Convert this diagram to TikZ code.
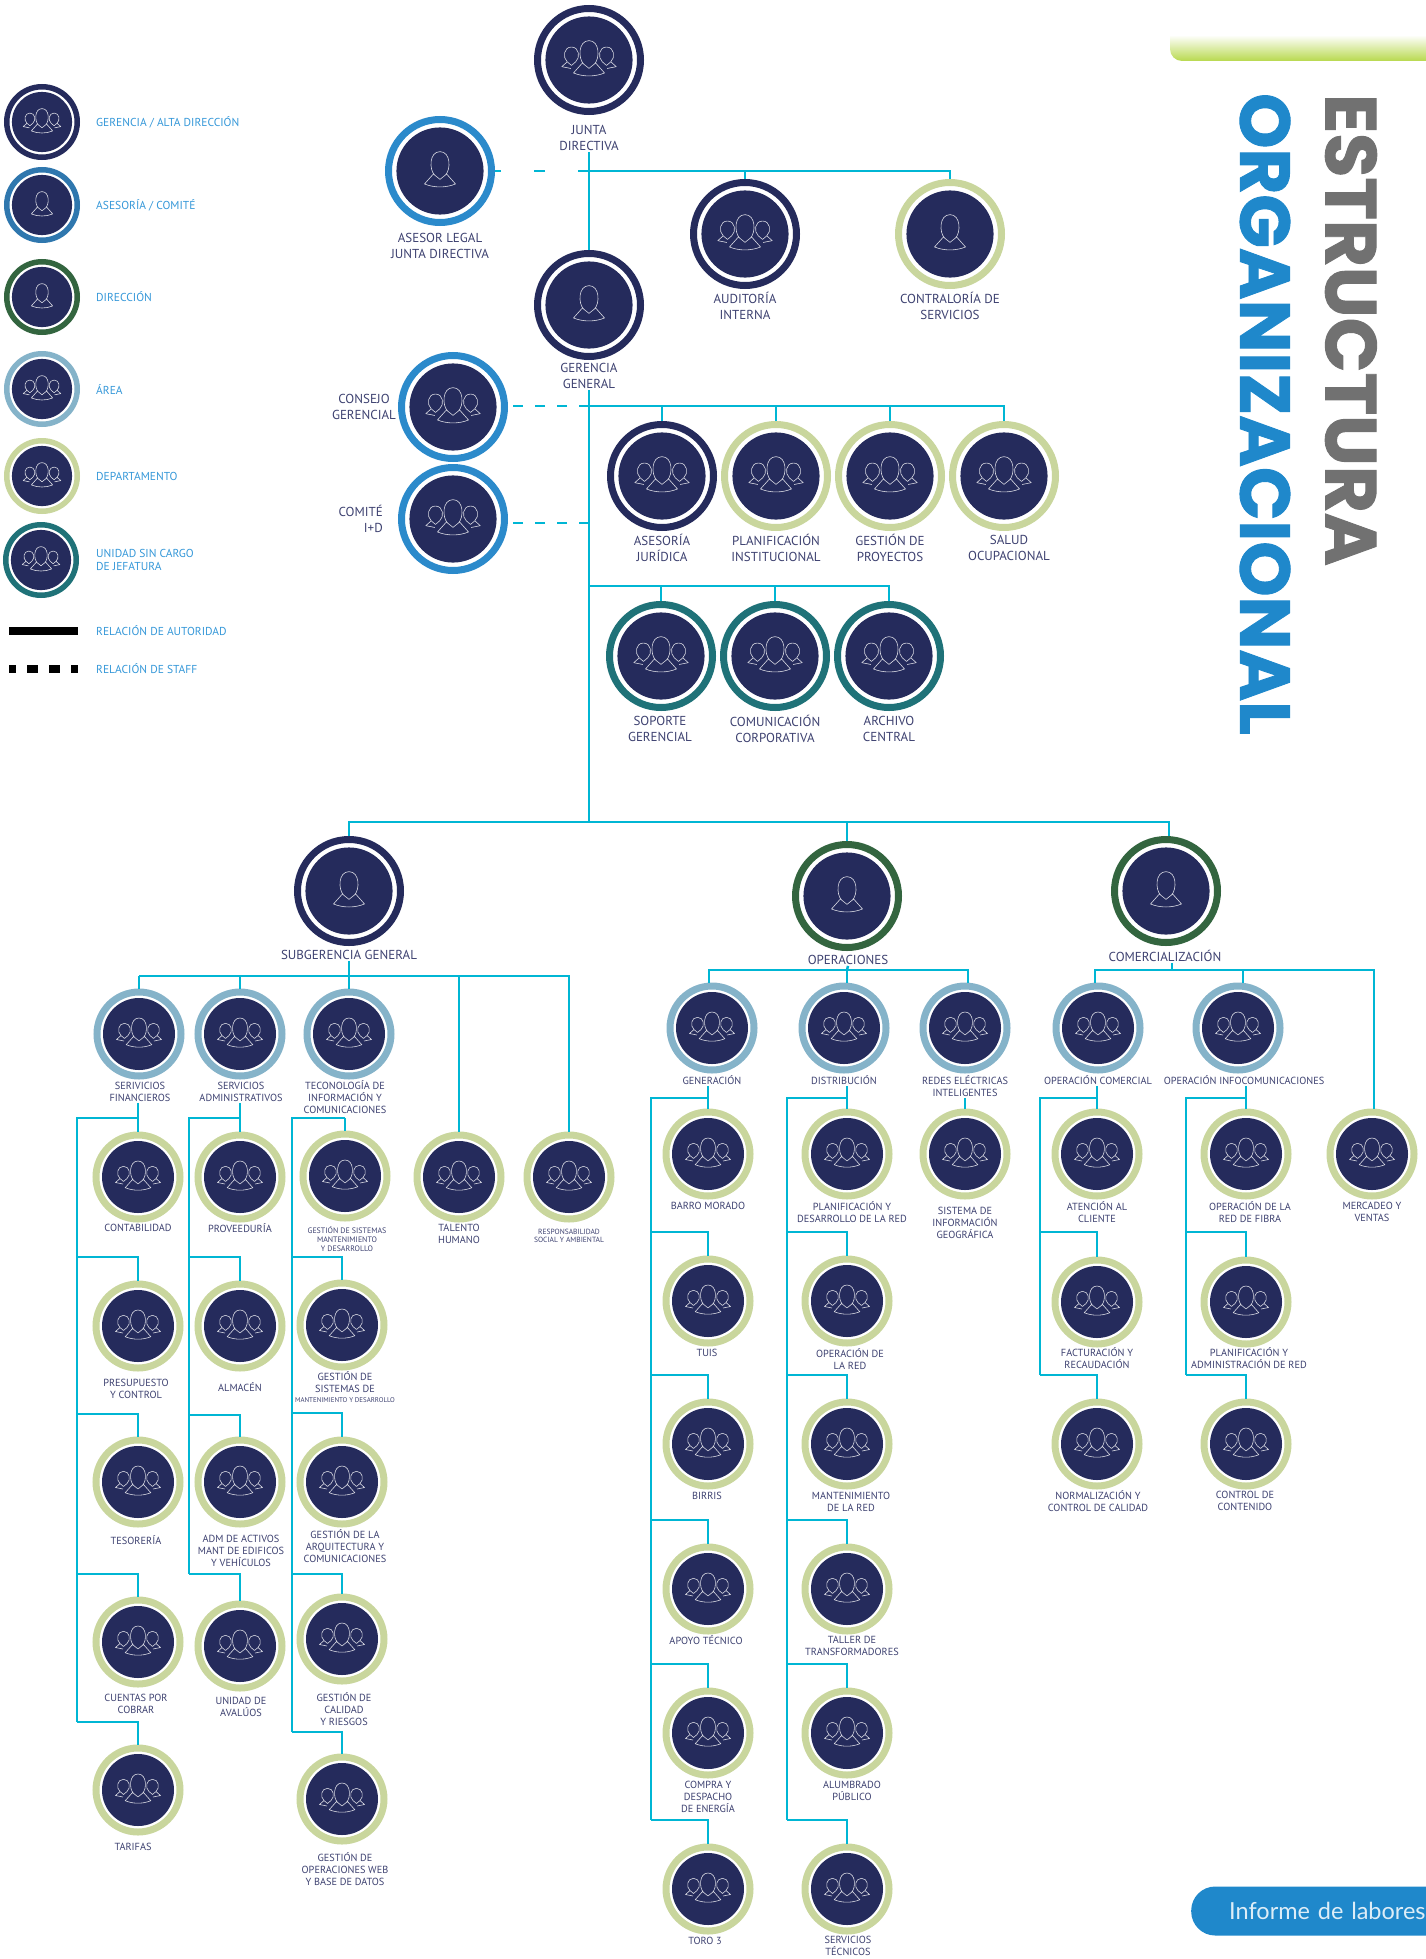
\documentclass[tikz,border=0pt]{standalone}
\usepackage{fontspec}
\setmainfont{PT Sans}
\newfontfamily\titlefont{Poppins}[BoldFeatures={FakeBold=1.3}]
\newfontfamily\tabfont{Lato}
\usepackage{xcolor}
\definecolor{navy}{HTML}{252B5C}
\definecolor{staffblue}{HTML}{2B8ACB}
\definecolor{legendblue}{HTML}{2F77AE}
\definecolor{dirgreen}{HTML}{33653F}
\definecolor{areablue}{HTML}{85B3C9}
\definecolor{deptgreen}{HTML}{C9D69D}
\definecolor{unitteal}{HTML}{1F7278}
\definecolor{linkcyan}{HTML}{00B6D4}
\definecolor{labelnavy}{HTML}{3D4170}
\definecolor{legendtext}{HTML}{3497D8}
\definecolor{barlime}{HTML}{B8D94E}
\definecolor{titleblue}{HTML}{1F88CB}
\definecolor{titlegray}{HTML}{717171}

\newcommand{\bustshape}{
    (-4.5,3.3) .. controls (-9,-1) and (-9,-16) .. (0,-16) .. controls (9,-16) and (9,-1) .. (4.5,3.3)
    (-5.5,2.5) -- (0,6.9) -- (5.5,2.5) -- (12.8,10.7) .. controls (5,14) and (-5,14) .. (-12.8,10.7) -- cycle
}
\newcommand{\sideshape}{
    (11,1.5) .. controls (7,-2) and (8,-10.7) .. (14.5,-10.7) .. controls (21,-10.7) and (22,-2) .. (18,1.5)
    (11,1.5) -- (14.5,4.5) -- (18,1.5) -- (22.5,5.5) -- (15,7)
}
\tikzset{
    iconscale/.store in=\iconscale,
    face/.style={fill=navy},
    iconline/.style={draw=white!82!navy, line width=0.6pt, line join=round},
    unit/.style={circle, fill=white, inner sep=0pt},
    big/.style={unit, minimum size=103pt, line width=7pt, iconscale=1.21},
    mid/.style={unit, minimum size=84pt, line width=7pt, iconscale=1},
    leg/.style={unit, minimum size=70.5pt, line width=5.5pt, iconscale=0.835},
    gerencia/.style={draw=navy},
    asesoria/.style={draw=staffblue},
    asesorialeg/.style={draw=legendblue},
    direccion/.style={draw=dirgreen},
    area/.style={draw=areablue},
    depto/.style={draw=deptgreen},
    sincargo/.style={draw=unitteal},
    single/.style={path picture={
        \begin{scope}[x=\iconscale*1pt, y=-\iconscale*1pt, shift={(path picture bounding box.center)}]
            \fill[face] (0,0) circle (36);
            \draw[iconline] \bustshape;
        \end{scope}}},
    people/.style={path picture={
        \begin{scope}[x=\iconscale*1pt, y=-\iconscale*1pt, shift={(path picture bounding box.center)}]
            \fill[face] (0,0) circle (36);
            \draw[iconline] \sideshape;
            \draw[iconline, x=-\iconscale*1pt] \sideshape;
            \fill[face] \bustshape;
            \draw[iconline] \bustshape;
        \end{scope}}},
    lab/.style={text=labelnavy, align=center, inner sep=1pt, font=\fontsize{10.3}{12}\selectfont},
    labbig/.style={text=labelnavy, align=center, inner sep=1pt, font=\fontsize{13}{16.5}\selectfont},
    labsmall/.style={text=labelnavy, align=center, inner sep=1pt, font=\fontsize{7.9}{9.3}\selectfont},
    labtiny/.style={text=labelnavy, align=center, inner sep=1pt, font=\fontsize{7.5}{8}\selectfont},
    legtext/.style={text=legendtext, align=left, anchor=west, inner sep=0pt, font=\fontsize{11.5}{13}\selectfont},
    link/.style={draw=linkcyan, line width=2.5pt},
    staff/.style={draw=linkcyan, line width=2.5pt},
    legline/.style={draw=black, line width=8pt}
}

\begin{document}
\begin{tikzpicture}[x=1pt, y=-1pt]
    \useasboundingbox (0,0) rectangle (1426,1959);

    % Green bar and title
    \shade[top color=white, bottom color=barlime] (1426,35) -- (1170,35) -- (1170,49)
        arc[start angle=180, end angle=90, radius=12] -- (1426,61) -- cycle;
    \node[rotate=-90, text=titlegray, inner sep=0pt, font=\titlefont\bfseries\fontsize{72}{72}\selectfont] (estructura) at (1351,330) {ESTRUCTURA};
    \node[rotate=-90, text=titleblue, inner sep=0pt, font=\titlefont\bfseries\fontsize{70.3}{70}\selectfont] (organizacional) at (1265,414) {ORGANIZACIONAL};
    \node[fill=titleblue, rounded corners=24pt, minimum height=49pt, anchor=west, align=left, text=white!85!titleblue, inner sep=0pt, font=\tabfont\fontsize{23.5}{24}\selectfont, text width=262pt] (informe) at (1191,1911) {\hspace*{38pt}\mbox{Informe de labores}};

    % Legend
    \node[leg,gerencia,people] (legA) at (42,122) {};
    \node[leg,asesorialeg,single] (legB) at (42,205) {};
    \node[leg,direccion,single] (legC) at (42,297) {};
    \node[leg,area,people] (legD) at (42,389) {};
    \node[leg,depto,people] (legE) at (42,476) {};
    \node[leg,sincargo,people] (legF) at (41,560) {};
    \node[legtext] (legAt) at (96,122) {GERENCIA / ALTA DIRECCIÓN};
    \node[legtext] (legBt) at (96,205) {ASESORÍA / COMITÉ};
    \node[legtext] (legCt) at (96,297) {DIRECCIÓN};
    \node[legtext] (legDt) at (96,389) {ÁREA};
    \node[legtext] (legEt) at (96,476) {DEPARTAMENTO};
    \node[legtext] (legFt) at (96,560) {UNIDAD SIN CARGO\\DE JEFATURA};
    \node[legtext] (legGt) at (96,631) {RELACIÓN DE AUTORIDAD};
    \node[legtext] (legHt) at (96,669) {RELACIÓN DE STAFF};
    \coordinate (legG) at (9,631);
    \coordinate (legH) at (9,669);
    \draw[legline] (legG) -- (legG -| 78,0);
    \draw[legline, dash pattern=on 7pt off 11pt on 11pt off 11pt on 11pt off 11pt on 7pt off 11pt] (legH) -- (legH -| 78,0);

    % Top of the chart
    \node[big,gerencia,people] (junta) at (589,60) {};
    \node[big,asesoria,single] (asesor) at (440,171) {};
    \node[big,gerencia,people] (auditoria) at (745,234) {};
    \node[big,depto,single] (contraloria) at (950,234) {};
    \node[big,gerencia,single] (gerencia) at (589,305) {};
    \node[big,asesoria,people] (consejo) at (453,407) {};
    \node[big,asesoria,people] (comite) at (453,519) {};
    \node[big,gerencia,people] (juridica) at (662,476) {};
    \node[big,depto,people] (institucional) at (776,476) {};
    \node[big,depto,people] (proyectos) at (890,476) {};
    \node[big,depto,people] (salud) at (1004,476) {};
    \node[big,sincargo,people] (soporte) at (661,656) {};
    \node[big,sincargo,people] (corporativa) at (775,656) {};
    \node[big,sincargo,people] (archivo) at (889,656) {};
    \node[big,gerencia,single] (subgerencia) at (349,891) {};
    \node[big,direccion,single] (operaciones) at (847,896) {};
    \node[big,direccion,single] (comercial) at (1166,891) {};

    \node[labbig] (juntaL) at (589,138) {JUNTA\\DIRECTIVA};
    \node[labbig] (asesorL) at (440,246) {ASESOR LEGAL\\JUNTA DIRECTIVA};
    \node[labbig] (auditoriaL) at (745,306) {AUDITORÍA\\INTERNA};
    \node[labbig] (contraloriaL) at (950,306) {CONTRALORÍA DE\\SERVICIOS};
    \node[labbig] (gerenciaL) at (589,376) {GERENCIA\\GENERAL};
    \node[labbig] (consejoL) at (364,407) {CONSEJO\\GERENCIAL};
    \node[labbig, align=right, anchor=east] (comiteL) at (384,519) {COMITÉ\\I+D};
    \node[labbig] (juridicaL) at (662,548) {ASESORÍA\\JURÍDICA};
    \node[labbig] (institucionalL) at (776,548) {PLANIFICACIÓN\\INSTITUCIONAL};
    \node[labbig] (proyectosL) at (890,548) {GESTIÓN DE\\PROYECTOS};
    \node[labbig] (saludL) at (1009,548) {SALUD\\OCUPACIONAL};
    \node[labbig] (soporteL) at (660,729) {SOPORTE\\GERENCIAL};
    \node[labbig] (corporativaL) at (775,729) {COMUNICACIÓN\\CORPORATIVA};
    \node[labbig] (archivoL) at (889,729) {ARCHIVO\\CENTRAL};
    \node[labbig] (subgerenciaL) at (349,955) {SUBGERENCIA GENERAL};
    \node[labbig] (operacionesL) at (848,960) {OPERACIONES};
    \node[labbig] (comercialL) at (1165,956) {COMERCIALIZACIÓN};

    % Subgerencia general
    \node[mid,area,people] (financieros) at (139,1034) {};
    \node[mid,area,people] (administrativos) at (240,1034) {};
    \node[mid,area,people] (tecnologia) at (349,1034) {};
    \node[mid,depto,people] (contabilidad) at (138,1177) {};
    \node[mid,depto,people] (proveeduria) at (240,1177) {};
    \node[mid,depto,people] (mantenimiento) at (345,1176) {};
    \node[mid,depto,people] (talento) at (459,1177) {};
    \node[mid,depto,people] (responsabilidad) at (569,1177) {};
    \node[mid,depto,people] (presupuesto) at (138,1326) {};
    \node[mid,depto,people] (almacen) at (240,1326) {};
    \node[mid,depto,people] (sistemas) at (342,1325) {};
    \node[mid,depto,people] (tesoreria) at (138,1482) {};
    \node[mid,depto,people] (activos) at (240,1482) {};
    \node[mid,depto,people] (arquitectura) at (342,1482) {};
    \node[mid,depto,people] (cuentas) at (138,1642) {};
    \node[mid,depto,people] (avaluos) at (240,1646) {};
    \node[mid,depto,people] (calidad) at (342,1639) {};
    \node[mid,depto,people] (tarifas) at (138,1790) {};
    \node[mid,depto,people] (web) at (342,1799) {};

    \node[lab] (financierosL) at (140,1092) {SERIVICIOS\\FINANCIEROS};
    \node[lab] (administrativosL) at (241,1092) {SERVICIOS\\ADMINISTRATIVOS};
    \node[lab] (tecnologiaL) at (345,1097) {TECONOLOGÍA DE\\INFORMACIÓN Y\\COMUNICACIONES};
    \node[lab] (contabilidadL) at (138,1228) {CONTABILIDAD};
    \node[lab] (proveeduriaL) at (240,1228) {PROVEEDURÍA};
    \node[labsmall] (mantenimientoL) at (347,1239) {GESTIÓN DE SISTEMAS\\MANTENIMIENTO\\Y DESARROLLO};
    \node[lab] (talentoL) at (459,1234) {TALENTO\\HUMANO};
    \node[labtiny] (responsabilidadL) at (569,1236) {RESPONSABILIDAD\\SOCIAL Y AMBIENTAL};
    \node[lab] (presupuestoL) at (136,1389) {PRESUPUESTO\\Y CONTROL};
    \node[lab] (almacenL) at (240,1387) {ALMACÉN};
    \node[lab] (sistemasL) at (345,1387) {GESTIÓN DE\\SISTEMAS DE\\[-2pt]{\fontsize{6.9}{8}\selectfont MANTENIMIENTO Y DESARROLLO}};
    \node[lab] (tesoreriaL) at (136,1540) {TESORERÍA};
    \node[lab] (activosL) at (241,1551) {ADM DE ACTIVOS\\MANT DE EDIFICOS\\Y VEHÍCULOS};
    \node[lab] (arquitecturaL) at (345,1546) {GESTIÓN DE LA\\ARQUITECTURA Y\\COMUNICACIONES};
    \node[lab] (cuentasL) at (136,1704) {CUENTAS POR\\COBRAR};
    \node[lab] (avaluosL) at (241,1707) {UNIDAD DE\\AVALÚOS};
    \node[lab] (calidadL) at (344,1709) {GESTIÓN DE\\CALIDAD\\Y RIESGOS};
    \node[lab] (tarifasL) at (133,1847) {TARIFAS};
    \node[lab] (webL) at (345,1869) {GESTIÓN DE\\OPERACIONES WEB\\Y BASE DE DATOS};

    % Operaciones
    \node[mid,area,people] (generacion) at (712,1028) {};
    \node[mid,area,people] (distribucion) at (844,1028) {};
    \node[mid,area,people] (redes) at (965,1028) {};
    \node[mid,depto,people] (barro) at (708,1154) {};
    \node[mid,depto,people] (tuis) at (708,1301) {};
    \node[mid,depto,people] (birris) at (708,1444) {};
    \node[mid,depto,people] (apoyo) at (708,1589) {};
    \node[mid,depto,people] (compra) at (708,1733) {};
    \node[mid,depto,people] (toro) at (708,1889) {};
    \node[mid,depto,people] (desarrollo) at (847,1154) {};
    \node[mid,depto,people] (operacion) at (847,1301) {};
    \node[mid,depto,people] (manteni) at (847,1444) {};
    \node[mid,depto,people] (taller) at (847,1589) {};
    \node[mid,depto,people] (alumbrado) at (847,1733) {};
    \node[mid,depto,people] (tecnicos) at (847,1889) {};
    \node[mid,depto,people] (geografica) at (965,1154) {};

    \node[lab] (generacionL) at (712,1080) {GENERACIÓN};
    \node[lab] (distribucionL) at (844,1080) {DISTRIBUCIÓN};
    \node[lab] (redesL) at (965,1086) {REDES ELÉCTRICAS\\INTELIGENTES};
    \node[lab] (barroL) at (708,1206) {BARRO MORADO};
    \node[lab] (tuisL) at (707,1353) {TUIS};
    \node[lab] (birrisL) at (707,1496) {BIRRIS};
    \node[lab] (apoyoL) at (706,1640) {APOYO TÉCNICO};
    \node[lab] (compraL) at (708,1797) {COMPRA Y\\DESPACHO\\DE ENERGÍA};
    \node[lab] (toroL) at (705,1941) {TORO 3};
    \node[lab] (desarrolloL) at (852,1212) {PLANIFICACIÓN Y\\DESARROLLO DE LA RED};
    \node[lab] (operacionL) at (850,1359) {OPERACIÓN DE\\LA RED};
    \node[lab] (manteniL) at (851,1502) {MANTENIMIENTO\\DE LA RED};
    \node[lab] (tallerL) at (852,1646) {TALLER DE\\TRANSFORMADORES};
    \node[lab] (alumbradoL) at (852,1791) {ALUMBRADO\\PÚBLICO};
    \node[lab] (tecnicosL) at (848,1946) {SERVICIOS\\TÉCNICOS};
    \node[lab] (geograficaL) at (965,1223) {SISTEMA DE\\INFORMACIÓN\\GEOGRÁFICA};

    % Comercializacion
    \node[mid,area,people] (opcomercial) at (1098,1028) {};
    \node[mid,area,people] (opinfo) at (1238,1028) {};
    \node[mid,depto,people] (atencion) at (1097,1154) {};
    \node[mid,depto,people] (facturacion) at (1097,1302) {};
    \node[mid,depto,people] (normalizacion) at (1097,1444) {};
    \node[mid,depto,people] (fibra) at (1246,1154) {};
    \node[mid,depto,people] (planred) at (1246,1302) {};
    \node[mid,depto,people] (contenido) at (1246,1444) {};
    \node[mid,depto,people] (mercadeo) at (1372,1154) {};

    \node[lab] (opcomercialL) at (1098,1080) {OPERACIÓN COMERCIAL};
    \node[lab] (opinfoL) at (1244,1080) {OPERACIÓN INFOCOMUNICACIONES};
    \node[lab] (atencionL) at (1097,1212) {ATENCIÓN AL\\CLIENTE};
    \node[lab] (facturacionL) at (1097,1358) {FACTURACIÓN Y\\RECAUDACIÓN};
    \node[lab] (normalizacionL) at (1098,1501) {NORMALIZACIÓN Y\\CONTROL DE CALIDAD};
    \node[lab] (fibraL) at (1250,1212) {OPERACIÓN DE LA\\RED DE FIBRA};
    \node[lab] (planredL) at (1249,1358) {PLANIFICACIÓN Y\\ADMINISTRACIÓN DE RED};
    \node[lab] (contenidoL) at (1245,1501) {CONTROL DE\\CONTENIDO};
    \node[lab] (mercadeoL) at (1372,1212) {MERCADEO Y\\VENTAS};

    % Links at the top
    \coordinate (barA) at (589,171);
    \coordinate (barB) at (589,406);
    \coordinate (barC) at (589,523);
    \coordinate (barD) at (589,586);
    \coordinate (barE) at (589,822);
    \draw[link] (juntaL.south) -- (gerencia.north);
    \draw[link] (gerenciaL.south) -- (barE);
    \draw[staff, dash pattern=on 11.5pt off 32.5pt] (barA) -- (asesor.east);
    \draw[staff, dash pattern=on 10.5pt off 11.5pt, shorten >=5pt] (barB) -- (barB -| consejo.east);
    \draw[staff, dash pattern=on 10.5pt off 11.5pt, shorten >=5pt] (barC) -- (barC -| comite.east);
    \draw[link] (barA) -| (contraloria.north);
    \draw[link] (auditoria.north |- barA) -- (auditoria.north);
    \draw[link] (barB) -| (salud.north);
    \foreach \n in {juridica,institucional,proyectos}
        \draw[link] (\n.north |- barB) -- (\n.north);
    \draw[link] (barD) -| (archivo.north);
    \foreach \n in {soporte,corporativa}
        \draw[link] (\n.north |- barD) -- (\n.north);
    \draw[link] (subgerencia.north) |- (barE) -| ([xshift=3pt]comercial.north);
    \draw[link] (operaciones.north |- barE) -- (operaciones.north);

    % Links below subgerencia
    \coordinate (subBar) at (349,976);
    \draw[link] (subgerenciaL.south) -- (subBar);
    \draw[link] (subBar -| financieros.north) -| (responsabilidad.north);
    \foreach \n in {financieros,administrativos,tecnologia,talento}
        \draw[link] (subBar -| \n.north) -- (\n.north);
    \coordinate (finT) at (77,1118);
    \coordinate (admT) at (189,1118);
    \coordinate (tecT) at (292,1118);
    \draw[link] (financierosL.south -| contabilidad.north) -- (contabilidad.north);
    \draw[link] (administrativosL.south -| proveeduria.north) -- (proveeduria.north);
    \draw[link] (mantenimiento.north |- finT) -- (mantenimiento.north);
    \draw[link] (contabilidad.north |- finT) -- (finT) -- (finT |- 0,1722);
    \draw[link] (proveeduria.north |- admT) -- (admT) -- (admT |- 0,1574);
    \draw[link] (mantenimiento.north |- tecT) -- (tecT) -- (tecT |- 0,1732);
    \foreach \n/\y in {presupuesto/1257,tesoreria/1414,cuentas/1574,tarifas/1722}
        \draw[link] (finT |- 0,\y) -| (\n.north);
    \foreach \n/\y in {almacen/1257,activos/1415,avaluos/1574}
        \draw[link] (admT |- 0,\y) -| (\n.north);
    \foreach \n/\y in {sistemas/1257,arquitectura/1413,calidad/1574,web/1732}
        \draw[link] (tecT |- 0,\y) -| (\n.north);

    % Links below operaciones
    \coordinate (opeBar) at (847,970);
    \draw[link] (operacionesL.south) -- (opeBar);
    \draw[link] ([xshift=-3pt]generacion.north) |- (opeBar) -| ([xshift=3pt]redes.north);
    \draw[link] (opeBar) -- (opeBar |- distribucion.north);
    \coordinate (genT) at (651,1098);
    \coordinate (disT) at (787,1098);
    \draw[link] (generacionL.south -| barro.north) -- (barro.north);
    \draw[link] (distribucionL.south -| desarrollo.north) -- (desarrollo.north);
    \draw[link] (redesL.south -| geografica.north) -- (geografica.north);
    \draw[link] (barro.north |- genT) -- (genT) -- (genT |- 0,1820);
    \draw[link] (desarrollo.north |- disT) -- (disT) -- (disT |- 0,1820);
    \foreach \n/\y in {tuis/1232,birris/1375,apoyo/1520,compra/1664,toro/1820}
        \draw[link] (genT |- 0,\y) -| (\n.north);
    \foreach \n/\y in {operacion/1232,manteni/1375,taller/1520,alumbrado/1664,tecnicos/1820}
        \draw[link] (disT |- 0,\y) -| (\n.north);

    % Links below comercializacion
    \coordinate (comBar) at (1172,970);
    \draw[link] (comercialL.south -| comBar) -- (comBar);
    \draw[link] ([xshift=-3pt]opcomercial.north) |- (comBar) -| ([xshift=2pt]mercadeo.north);
    \draw[link] ([xshift=5pt]opinfo.north) -- ([xshift=5pt]opinfo.north |- comBar);
    \coordinate (comT) at (1040,1098);
    \coordinate (infT) at (1186,1098);
    \draw[link] (opcomercialL.south -| atencion.north) -- (atencion.north);
    \draw[link] (opinfoL.south -| fibra.north) -- (fibra.north);
    \draw[link] (atencion.north |- comT) -- (comT) -- (comT |- 0,1375);
    \draw[link] (fibra.north |- infT) -- (infT) -- (infT |- 0,1375);
    \foreach \n/\y in {facturacion/1232,normalizacion/1375}
        \draw[link] (comT |- 0,\y) -| (\n.north);
    \foreach \n/\y in {planred/1232,contenido/1375}
        \draw[link] (infT |- 0,\y) -| (\n.north);
\end{tikzpicture}
\end{document}
